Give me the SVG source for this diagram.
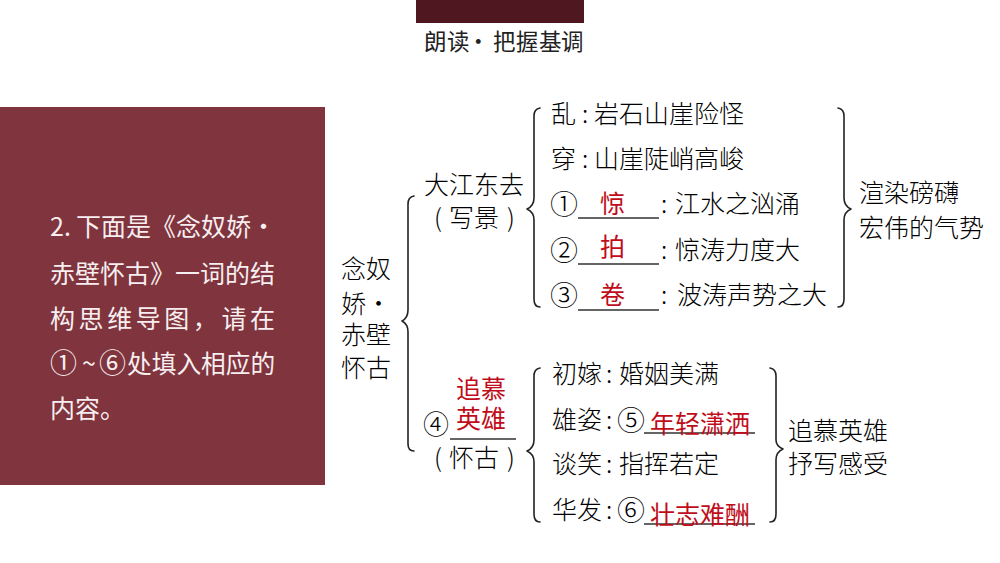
<svg xmlns="http://www.w3.org/2000/svg" width="1000" height="563" viewBox="0 0 1000 563">
<style>
text{font-family:"Noto Sans CJK SC","Liberation Sans",sans-serif;font-size:25px;fill:#000;font-weight:300}
.p text{fill:#f7eef0;font-size:25px;font-weight:400}
.r{fill:#c00d1a;font-weight:400}
.c{font-size:28px}
.b{fill:none;stroke:#222;stroke-width:1.6;stroke-linejoin:round;stroke-linecap:round}
.u{stroke:#333;stroke-width:1.3}
</style>
<rect width="1000" height="563" fill="#fff"/>
<g id="header">
<rect x="416" y="0" width="168" height="23" fill="#4f1820"/>
<text y="50" x="424 447 467 493 516 539 561" style="font-size:22.5px;font-weight:400;fill:#222">朗读·把握基调</text>
</g>
<g id="prompt" class="p">
<rect x="0" y="107" width="325" height="378" fill="#7f343e"/>
<text y="236"><tspan x="50">2.</tspan><tspan x="76">下面是《念奴娇</tspan><tspan x="251">·</tspan></text>
<text x="50" y="283">赤壁怀古》一词的结</text>
<text x="50" y="328" textLength="225">构思维导图，请在</text>
<text y="373"><tspan x="50" style="font-size:27px">①</tspan><tspan x="82">~</tspan><tspan x="99" style="font-size:27px">⑥</tspan><tspan x="127" style="font-size:24.7px">处填入相应的</tspan></text>
<text x="50" y="418">内容。</text>
</g>
<g id="root">
<text><tspan x="341" y="278">念奴</tspan><tspan x="341" y="313">娇</tspan><tspan x="366" y="313">·</tspan><tspan x="341" y="344">赤壁</tspan><tspan x="341" y="377">怀古</tspan></text>
</g>
<g id="connectors">
<path class="b" d="M414 196Q408 197 408 204V310Q408 318 402 321Q408 324 408 332V444Q408 451 414 451"/>
<path class="b" d="M540 108Q534 109 534 116V198Q534 206 527 209Q534 212 534 220V299Q534 307 540 307"/>
<path class="b" d="M838 108Q844 109 844 116V198Q844 206 851 209Q844 212 844 220V299Q844 307 838 307"/>
<path class="b" d="M540 368Q534 369 534 376V440Q534 448 527 451Q534 454 534 462V514Q534 522 540 522"/>
<path class="b" d="M770 368Q776 369 776 376V440Q776 446 783 449Q776 452 776 460V514Q776 522 770 522"/>
<path class="u" d="M578 218H659M578 264H659M578 310H659M450 439H516M644 433H755M644 524H755"/>
</g>
<g id="scene">
<text x="424" y="194">大江东去</text>
<text y="227"><tspan x="434">(</tspan><tspan x="449">写景</tspan><tspan x="507">)</tspan></text>
</g>
<g id="scene-items">
<text y="123"><tspan x="551">乱</tspan><tspan x="582">:</tspan><tspan x="594">岩石山崖险怪</tspan></text>
<text y="168"><tspan x="551">穿</tspan><tspan x="582">:</tspan><tspan x="594">山崖陡峭高峻</tspan></text>
<text class="c" x="550" y="215">①</text><text class="r" x="600" y="213">惊</text><text y="213"><tspan x="661">:</tspan><tspan x="675">江水之汹涌</tspan></text>
<text class="c" x="550" y="261">②</text><text class="r" x="600" y="256">拍</text><text y="259"><tspan x="661">:</tspan><tspan x="675">惊涛力度大</tspan></text>
<text class="c" x="550" y="306">③</text><text class="r" x="600" y="304">卷</text><text y="304"><tspan x="661">:</tspan><tspan x="677">波涛声势之大</tspan></text>
</g>
<g id="scene-summary">
<text x="859" y="202">渲染磅礴</text>
<text x="859" y="237">宏伟的气势</text>
</g>
<g id="history">
<text class="c" x="423" y="434" style="font-size:26px">④</text>
<text class="r"><tspan x="456" y="398">追慕</tspan><tspan x="456" y="428">英雄</tspan></text>
<text y="467"><tspan x="434">(</tspan><tspan x="449">怀古</tspan><tspan x="507">)</tspan></text>
</g>
<g id="history-items">
<text y="383"><tspan x="552">初嫁</tspan><tspan x="606">:</tspan><tspan x="619">婚姻美满</tspan></text>
<text y="429"><tspan x="552">雄姿</tspan><tspan x="606">:</tspan></text><text class="c" x="617" y="431">⑤</text><text class="r" x="650" y="433">年轻潇洒</text>
<text y="473"><tspan x="552">谈笑</tspan><tspan x="606">:</tspan><tspan x="619">指挥若定</tspan></text>
<text y="519"><tspan x="552">华发</tspan><tspan x="606">:</tspan></text><text class="c" x="617" y="521">⑥</text><text class="r" x="650" y="524">壮志难酬</text>
</g>
<g id="history-summary">
<text x="788" y="440">追慕英雄</text>
<text x="788" y="473">抒写感受</text>
</g>
</svg>
